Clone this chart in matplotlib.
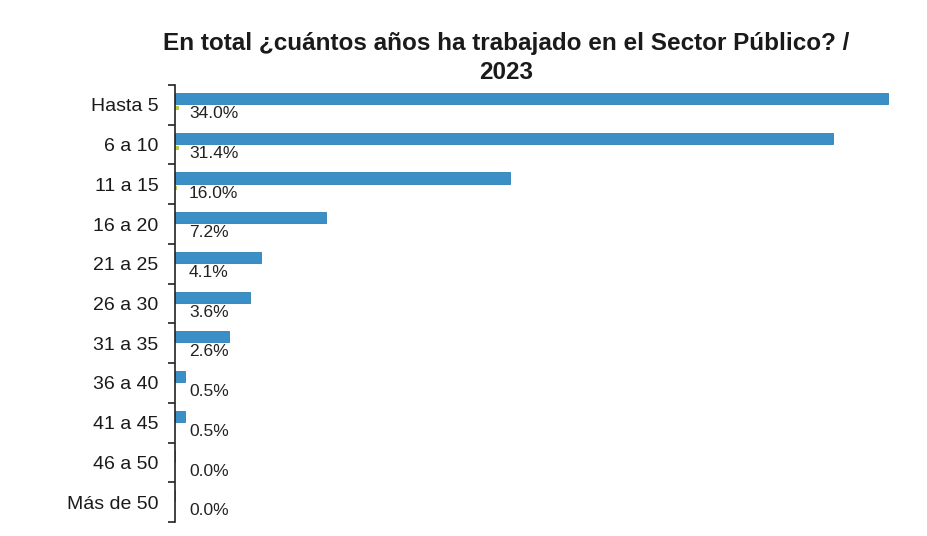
import matplotlib
matplotlib.use("Agg")
import matplotlib.pyplot as plt
import numpy as np

plt.rcParams['font.family'] = ['Liberation Sans', 'DejaVu Sans']

categories = ["Hasta 5", "6 a 10", "11 a 15", "16 a 20", "21 a 25", "26 a 30",
              "31 a 35", "36 a 40", "41 a 45", "46 a 50", "Más de 50"]
pct_2023 = [34.0, 31.4, 16.0, 7.2, 4.1, 3.6, 2.6, 0.5, 0.5, 0.0, 0.0]
pct_small = [0.2, 0.2, 0.1, 0, 0, 0, 0, 0, 0, 0, 0]
title = "En total ¿cuántos años ha trabajado en el Sector Público? /\n2023"

fig = plt.figure(figsize=(9.28, 5.36), dpi=100)
ax = fig.add_axes([175/928, 14/536, 720/928, 437/536])

y = np.arange(len(categories))
ax.barh(y - 0.16, pct_2023, height=0.28, color="#3a8fc6", edgecolor="#2f7fb5", linewidth=0.6)
ax.barh(y + 0.09, pct_small, height=0.1, color="#b9c94a")

for yi, v in zip(y, pct_2023):
    ax.annotate(f"{v:.1f}%", xy=(0, yi + 0.22), xytext=(10, 0), textcoords="offset points",
                ha="left", va="center", fontsize=12.5, color="#222222")

ax.set_xlim(0, 34.35)
ax.set_ylim(len(categories) - 0.5, -0.5)
ax.set_yticks(y)
ax.set_yticklabels(categories, fontsize=14, color="#1a1a1a")
ax.tick_params(axis="y", length=0, pad=12)
ax.set_yticks(np.arange(-0.5, len(categories)), minor=True)
ax.tick_params(axis="y", which="minor", length=5, width=1.2, color="#222222")
ax.set_xticks([])
for s in ["top", "right", "bottom"]:
    ax.spines[s].set_visible(False)
ax.spines["left"].set_color("#222222")
ax.spines["left"].set_linewidth(1.2)

fig.text(506/928, 1 - 58/536, title, ha="center", va="center", fontsize=17.5,
         fontweight="bold", color="#1a1a1a", linespacing=1.28)

fig.savefig("out.png", dpi=100, facecolor="white")
